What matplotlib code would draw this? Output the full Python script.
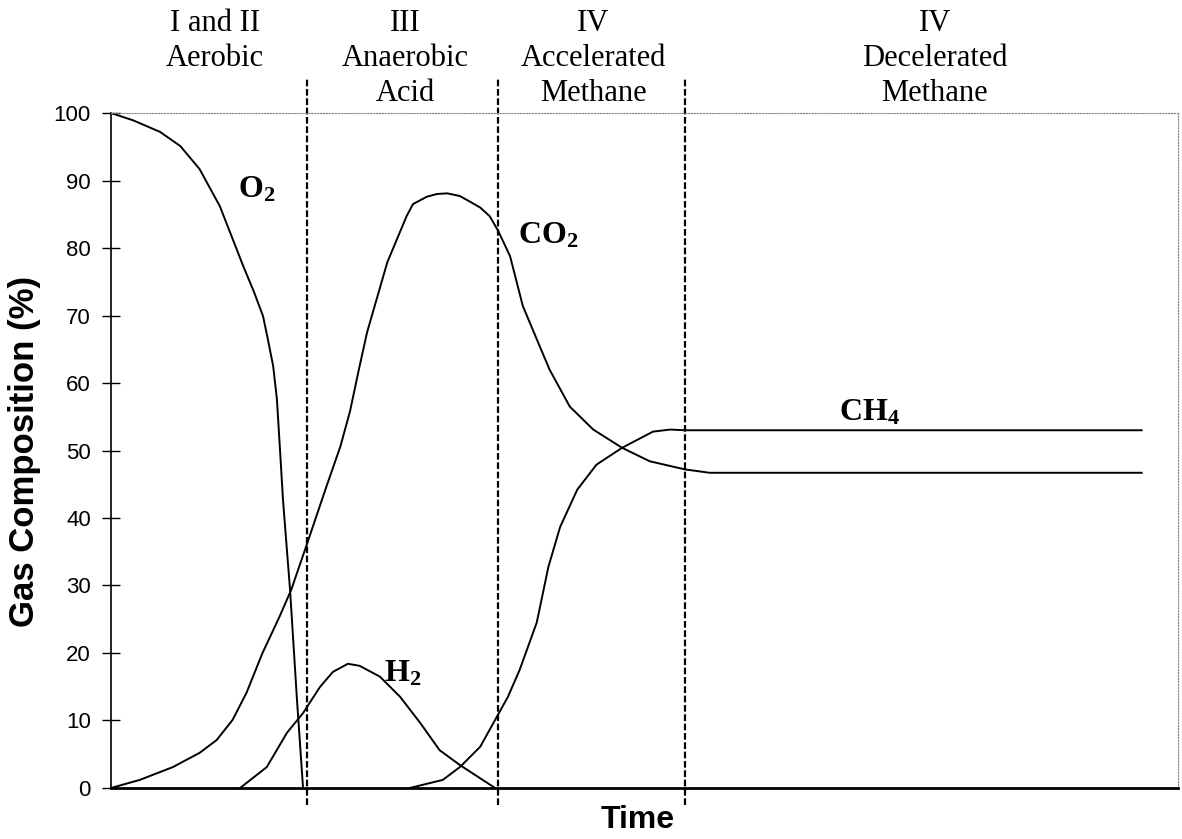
import matplotlib
matplotlib.use('Agg')
import matplotlib.pyplot as plt

plt.rcParams['font.family'] = ['Liberation Sans', 'DejaVu Sans']
plt.rcParams['mathtext.fontset'] = 'custom'
plt.rcParams['mathtext.rm'] = 'Liberation Serif'
plt.rcParams['mathtext.bf'] = 'Liberation Serif:bold'

# Data (time in arbitrary units, 0-100)
#-----------------------------------------------------------
o2_t   = [0, 2.1, 4.6, 6.5, 8.3, 10.2, 12.4, 13.4, 14.25, 14.7, 15.2, 15.55, 15.84, 16.12, 16.5,
          16.78, 17.43, 18.0]
o2_v   = [100, 98.9, 97.2, 95.1, 91.7, 86.2, 77.3, 73.5, 69.9, 66.5, 62.5, 57.6, 50.1, 42.7, 35.0,
          29.4, 13.1, 0]

co2_t  = [0, 2.7, 5.8, 8.3, 9.9, 11.4, 12.7, 14.2, 15.8, 16.9, 18.4, 20.2, 21.5, 22.4, 23.3, 24.0,
          25.9, 26.8, 27.7, 28.3, 29.6, 30.55, 31.5, 32.7, 33.6, 34.6, 35.5, 36.3, 37.4, 38.6,
          39.9, 41.1, 43.0, 45.2, 47.9, 50.5, 53.8, 56.1, 96.6]
co2_v  = [0, 1.2, 3.1, 5.2, 7.1, 10.1, 14.1, 20.0, 25.4, 29.4, 36.3, 44.7, 50.6, 55.8, 62.5, 67.5,
          77.9, 81.3, 84.7, 86.5, 87.6, 88.0, 88.1, 87.7, 86.9, 86.0, 84.7, 82.5, 78.8, 71.4,
          66.5, 62.0, 56.5, 53.1, 50.4, 48.4, 47.2, 46.7, 46.7]

h2_t   = [12.1, 14.6, 16.5, 18.0, 19.6, 20.8, 22.2, 23.3, 25.2, 27.1, 29.0, 30.8, 32.7, 36.0]
h2_v   = [0, 3.1, 8.2, 11.1, 15.0, 17.2, 18.4, 18.1, 16.5, 13.5, 9.6, 5.6, 3.4, 0]

ch4_t  = [28.0, 31.1, 32.7, 34.6, 35.9, 37.2, 38.3, 39.9, 41.0, 42.1, 43.7, 45.5, 47.9, 50.8,
          52.4, 53.8, 96.6]
ch4_v  = [0, 1.2, 3.1, 6.1, 9.8, 13.5, 17.5, 24.5, 32.8, 38.7, 44.2, 47.9, 50.4, 52.8,
          53.1, 53.0, 53.0]

phase_bounds = [18.4, 36.3, 53.8]
phase_pos    = [9.75, 27.55, 45.2, 77.2]
phase_labels = ['I and II\nAerobic', 'III\nAnaerobic\nAcid',
                'IV\nAccelerated\nMethane', 'IV\nDecelerated\nMethane']

gas_labels = [r'$\mathbf{O_2}$', r'$\mathbf{CO_2}$', r'$\mathbf{H_2}$', r'$\mathbf{CH_4}$']
gas_x      = [13.7, 41.0, 27.3, 71.1]
gas_y      = [88.6, 81.8, 16.9, 55.6]

yticks = list(range(0, 101, 10))

# Plot
#-----
fig = plt.figure(figsize=(11.82, 8.39), dpi=100)
ax = fig.add_axes([0.0939, 0.0608, 0.9027, 0.8045])

for t, v in [(o2_t, o2_v), (co2_t, co2_v), (h2_t, h2_v), (ch4_t, ch4_v)]:
    ax.plot(t, v, color='black', linewidth=1.4)

for xb in phase_bounds:
    ax.plot([xb, xb], [-2.5, 105], color='black', linewidth=1.6,
            linestyle=(0, (3, 1.2)), clip_on=False)

for xp, lab in zip(phase_pos, phase_labels):
    ax.text(xp, 115.4, lab, ha='center', va='top', fontsize=22,
            family='Liberation Serif', linespacing=1.28, clip_on=False)

for lab, gx, gy in zip(gas_labels, gas_x, gas_y):
    ax.text(gx, gy, lab, ha='center', va='center', fontsize=23)

ax.set_xlim(0, 100)
ax.set_ylim(0, 100)
ax.set_yticks(yticks)
ax.set_xticks([])
ax.tick_params(axis='y', direction='inout', length=13, width=1, labelsize=16, pad=8)

ax.spines['left'].set_linewidth(1.2)
ax.spines['bottom'].set_linewidth(2)
for s in ['top', 'right']:
    ax.spines[s].set_linestyle(':')
    ax.spines[s].set_linewidth(0.8)
    ax.spines[s].set_color('gray')

ax.set_ylabel('Gas Composition (%)', fontsize=25, fontweight='bold')
ax.yaxis.set_label_coords(-0.066, 0.498)
ax.set_xlabel('Time', fontsize=23, fontweight='bold')
ax.xaxis.set_label_coords(0.494, -0.025)

fig.savefig('out.png', dpi=100)
